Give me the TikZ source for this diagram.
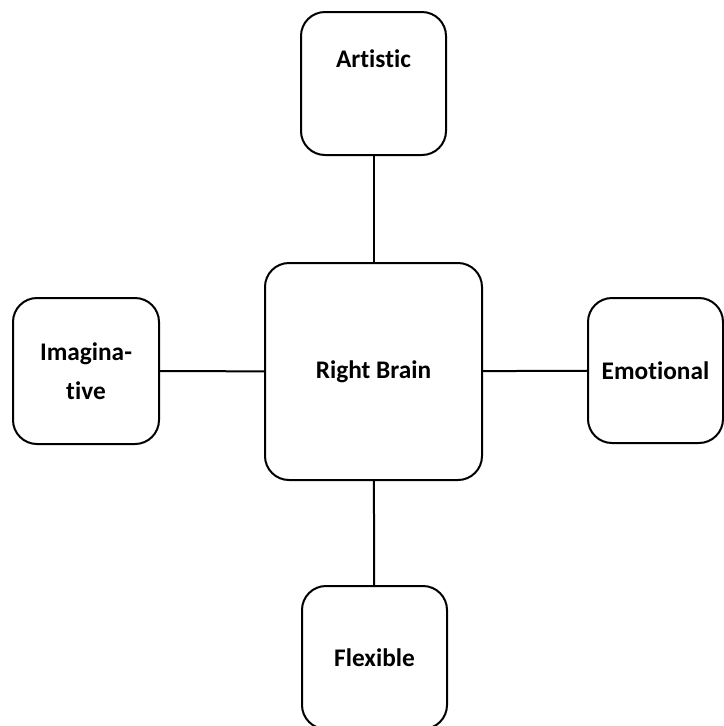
\documentclass[tikz,border=0pt]{standalone}
\usepackage{fontspec}
\setmainfont{Carlito}[Ligatures={NoCommon}]
\begin{document}
\begin{tikzpicture}[x=0.75pt,y=-0.75pt,
    box/.style={draw,line width=1.5pt,rounded corners=18pt,inner sep=0pt,
      font=\fontsize{19}{29}\selectfont\bfseries,align=center},
    link/.style={line width=1.5pt}]
            \useasboundingbox (0,0) rectangle (724,726);
            \node[box,minimum width=162.75pt,minimum height=162.75pt] (brain) at (373.5,371.5) {Right Brain};
            \node[box,minimum width=108.75pt,minimum height=107.25pt] (artistic) at (373.5,83.5) {Artistic\\[0pt]\strut};
            \node[box,minimum width=109.5pt,minimum height=109.5pt] (imag) at (86,371) {Imagina-\\tive};
            \node[box,minimum width=101.25pt,minimum height=108.75pt] (emot) at (655.5,370.5) {Emotional};
            \node[box,minimum width=108.75pt,minimum height=107.25pt] (flex) at (374.5,657.5) {Flexible};
            \draw[link] (brain) -- (artistic);
            \draw[link] (brain) -- (imag);
            \draw[link] (brain) -- (emot);
            \draw[link] (brain) -- (flex);
        \end{tikzpicture}
\end{document}
